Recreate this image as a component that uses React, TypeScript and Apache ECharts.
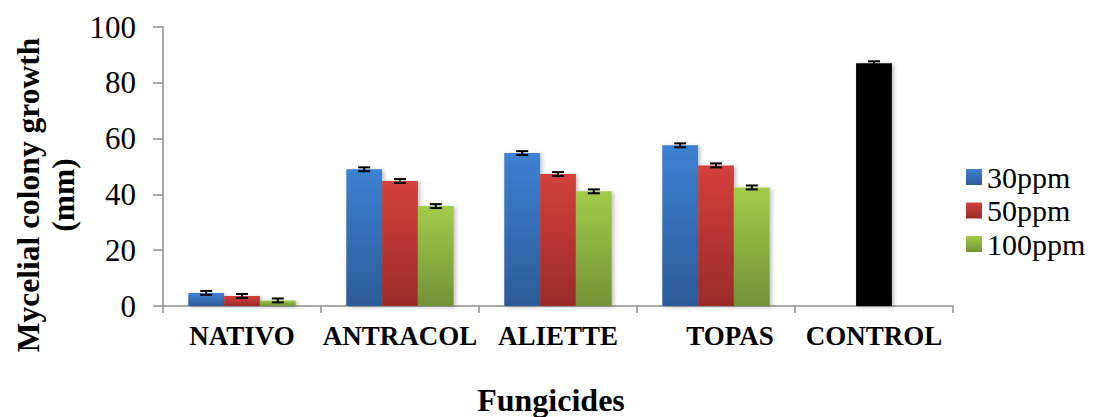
import React, { useEffect, useRef } from "react";
import * as echarts from "echarts";

const categories = ["NATIVO", "ANTRACOL", "ALIETTE", "TOPAS", "CONTROL"];
const seriesNames = ["30ppm", "50ppm", "100ppm"];
const values30: (number | null)[] = [4.7, 49.0, 54.8, 57.6, null];
const values50: (number | null)[] = [3.6, 44.8, 47.3, 50.4, 87.0];
const values100: (number | null)[] = [2.0, 35.8, 41.1, 42.5, null];
const err30: (number | null)[] = [0.7, 0.7, 0.7, 0.7, null];
const err50: (number | null)[] = [0.7, 0.7, 0.7, 0.7, 0.7];
const err100: (number | null)[] = [0.7, 0.7, 0.7, 0.7, null];
const yTicks = [0, 20, 40, 60, 80, 100];

const FONT = "'Liberation Serif', 'Times New Roman', serif";

export default function App() {
  const ref = useRef<HTMLDivElement>(null);
  useEffect(() => {
    if (!ref.current) return;
    const chart = echarts.init(ref.current, undefined, { renderer: "svg" });
    const grad = (a: string, b: string) =>
      new echarts.graphic.LinearGradient(0, 0, 0, 1, [
        { offset: 0, color: a },
        { offset: 1, color: b },
      ]);
    const colors = [
      grad("#3d80d2", "#2c5b99"),
      grad("#d3403c", "#9b2b28"),
      grad("#a3cb4b", "#739236"),
    ];
    const allVals = [values30, values50, values100];
    const allErr = [err30, err50, err100];
    const errData: number[][] = [];
    allVals.forEach((vals, s) => {
      vals.forEach((v, c) => {
        const e = allErr[s][c];
        if (v != null && e != null) errData.push([c, s, v, e]);
      });
    });
    const shadow = {
      shadowBlur: 4,
      shadowColor: "rgba(0,0,0,0.25)",
      shadowOffsetX: 2,
      shadowOffsetY: 1,
    };
    const barSeries = allVals.map((vals, s) => ({
      type: "bar",
      name: seriesNames[s],
      barGap: "0%",
      barCategoryGap: "32%",
      itemStyle: { color: colors[s], ...shadow },
      data: vals.map((v, c) =>
        v == null
          ? "-"
          : c === 4
          ? { value: v, itemStyle: { color: "#000000" } }
          : v
      ),
    }));
    const option: any = {
      animation: false,
      grid: { left: 163, right: 141, top: 27, bottom: 111 },
      legend: {
        orient: "vertical",
        left: 961,
        top: 157,
        icon: "rect",
        itemWidth: 16,
        itemHeight: 16,
        itemGap: 3.5,
        data: seriesNames,
        textStyle: { fontFamily: FONT, fontSize: 30, color: "#000" },
      },
      xAxis: {
        type: "category",
        data: categories,
        axisLine: { lineStyle: { color: "#8c8c8c", width: 1.5 } },
        axisTick: { show: true, length: 7, lineStyle: { color: "#8c8c8c", width: 1.5 } },
        axisLabel: {
          interval: 0,
          margin: 16,
          fontFamily: FONT,
          fontSize: 27,
          fontWeight: "bold",
          color: "#000",
          formatter: (v: string) => (v === "TOPAS" ? "{t|TOPAS}" : v),
          rich: {
            t: {
              fontFamily: FONT,
              fontSize: 27,
              fontWeight: "bold",
              color: "#000",
              padding: [0, 0, 0, 28],
            },
          },
        },
      },
      yAxis: {
        type: "value",
        min: yTicks[0],
        max: yTicks[yTicks.length - 1],
        interval: 20,
        splitLine: { show: false },
        axisLine: { show: true, lineStyle: { color: "#8c8c8c", width: 1.5 } },
        axisTick: { show: true, length: 10, lineStyle: { color: "#8c8c8c", width: 1.5 } },
        axisLabel: {
          margin: 27,
          fontFamily: FONT,
          fontSize: 31,
          color: "#000",
        },
      },
      graphic: [
        {
          type: "text",
          x: 28,
          y: 195,
          rotation: Math.PI / 2,
          style: {
            text: "Mycelial colony growth",
            fontFamily: FONT,
            fontSize: 31.5,
            fontWeight: "bold",
            fill: "#000",
            textAlign: "center",
            textVerticalAlign: "middle",
          },
        },
        {
          type: "text",
          x: 63,
          y: 195,
          rotation: Math.PI / 2,
          style: {
            text: "(mm)",
            fontFamily: FONT,
            fontSize: 31.5,
            fontWeight: "bold",
            fill: "#000",
            textAlign: "center",
            textVerticalAlign: "middle",
          },
        },
        {
          type: "text",
          x: 551,
          y: 400,
          style: {
            text: "Fungicides",
            fontFamily: FONT,
            fontSize: 32,
            fontWeight: "bold",
            fill: "#000",
            textAlign: "center",
            textVerticalAlign: "middle",
          },
        },
      ],
      series: [
        ...barSeries,
        {
          type: "custom",
          name: "err",
          z: 10,
          data: errData,
          renderItem: (params: any, api: any) => {
            const c = api.value(0);
            const s = api.value(1);
            const v = api.value(2);
            const e = api.value(3);
            const band = api.size([1, 0])[0];
            const bw = (band * 0.68) / 3;
            const center = api.coord([c, v]);
            const x = center[0] + (s - 1) * bw;
            const yHi = api.coord([c, v + e])[1];
            const yLo = api.coord([c, v - e])[1];
            const half = 6;
            const st = { stroke: "#000", lineWidth: 2 };
            return {
              type: "group",
              children: [
                { type: "line", shape: { x1: x, y1: yHi, x2: x, y2: yLo }, style: st },
                { type: "line", shape: { x1: x - half, y1: yHi, x2: x + half, y2: yHi }, style: st },
                { type: "line", shape: { x1: x - half, y1: yLo, x2: x + half, y2: yLo }, style: st },
              ],
            };
          },
        },
      ],
    };
    chart.setOption(option);
    return () => chart.dispose();
  }, []);
  return (
    <div
      ref={ref}
      style={{ position: "fixed", left: 0, top: 0, width: 1094, height: 417, background: "#fff" }}
    />
  );
}
